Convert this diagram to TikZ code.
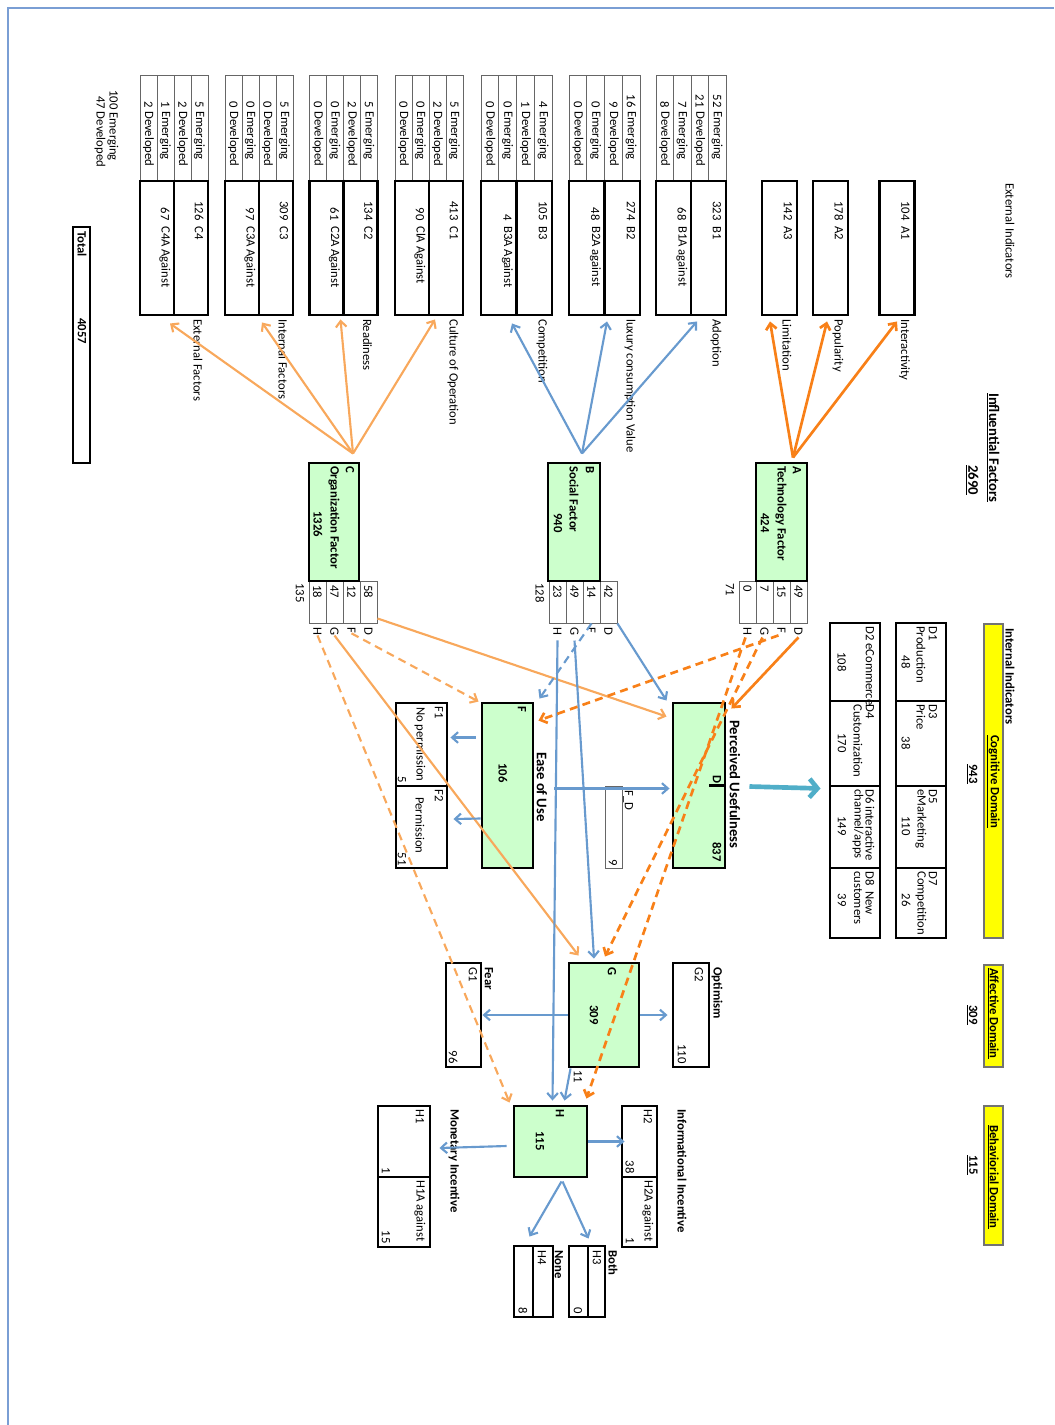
\documentclass[tikz,border=0pt]{standalone}
\usepackage{fontspec}
\setmainfont{Carlito}
\usetikzlibrary{arrows.meta, calc, positioning}

\definecolor{cellgreen}{RGB}{204,255,204}
\definecolor{domyellow}{RGB}{255,255,0}
\definecolor{lorange}{RGB}{248,168,92}
\definecolor{dorange}{RGB}{248,128,24}
\definecolor{lblue}{RGB}{104,154,206}
\definecolor{aqua}{RGB}{80,174,200}
\definecolor{pageblue}{RGB}{122,158,212}

\tikzset{
  wh/.style 2 args={minimum width=#1*0.75pt, minimum height=#2*0.75pt},
  box/.style={draw=black, line width=2.2pt, inner sep=0pt},
  gbox/.style={box, fill=cellgreen},
  ybox/.style={draw=black!55, line width=0.8pt, fill=domyellow, inner sep=0pt},
  tcell/.style={draw=black!60, line width=0.7pt, inner sep=0pt},
  txt/.style={rotate=-90, inner sep=0pt, font=\fontsize{9.5}{11}\selectfont},
  btxt/.style={txt, font=\fontsize{9.5}{11}\selectfont\bfseries},
  bigtxt/.style={txt, font=\fontsize{11}{13}\selectfont\bfseries},
  barb/.style={-{Straight Barb[length=4.5pt, width=8pt]}},
  carr/.style={barb, lorange, line width=1.6pt},
  barr/.style={barb, lblue, line width=1.6pt},
  aarr/.style={barb, dorange, line width=2pt},
  brk/.style={dash pattern=on 6pt off 4pt}
}

\begin{document}
\begin{tikzpicture}[x=0.75pt, y=-0.75pt]
  \useasboundingbox (0,0) rectangle (1054,1425);
  % page frame
  \draw[pageblue, line width=1pt] (8,1425) -- (8,8) -- (1054,8);

  % Titles
  \node[txt, anchor=west] (extind) at (1010,183) {External Indicators};
  \node[bigtxt, anchor=west] (inftitle) at (993,393) {\underline{Influential Factors}};
  \node[bigtxt, anchor=west] (infsum) at (972,465) {\underline{2690}};
  \node[txt, anchor=west] (emsum) at (113,90) {100 Emerging};
  \node[txt, anchor=west] (devsum) at (100,96) {47 Developed};

  % Total
  \node[box, wh={17}{236}] (total) at (81.5,345) {};
  \node[btxt, anchor=west] (total-t) at (82,231) {Total};
  \node[btxt, anchor=west] (total-n) at (82,318) {4057};

  % indicator boxes with counts on top
  \foreach \nm/\cx/\w/\na/\ta/\nb/\tb/\cnt/\lab in {
      c4/174/68/126/C4/67/C4A Against/{5,2,1,2}/External Factors,
      c3/259/68/309/C3/97/C3A Against/{5,0,0,0}/Internal Factors,
      c2/343.5/68/134/C2/61/C2A Against/{5,2,0,0}/Readiness,
      c1/429/68/413/C1/90/ClA Against/{5,2,0,0}/Culture of Operation,
      b3/516.5/71/105/B3/4/B3A Against/{4,1,0,0}/Competition,
      b2/604.5/71/274/B2/48/B2A against/{16,9,0,0}/luxury consumption Value,
      b1/691/70/323/B1/68/B1A against/{52,21,7,8}/Adoption} {
    \foreach \val [count=\ci] in \cnt {
      \node[tcell, wh={\w/4}{106}] (\nm c\ci) at ({\cx+\w/2-(\ci-0.5)*\w/4},128) {};
      \node[txt, anchor=east] (\nm v\ci) at ({\cx+\w/2-(\ci-0.5)*\w/4},108) {\val};
      \node[txt, anchor=west] (\nm w\ci) at ({\cx+\w/2-(\ci-0.5)*\w/4},111) {\ifodd\ci\relax Emerging\else Developed\fi};
    }
    \node[box, wh={\w}{134}] (\nm) at (\cx,248) {};
    \draw[line width=2.2pt] (\nm.north) -- (\nm.south);
    \node[txt, anchor=east] (\nm n1) at (\cx+\w/2-9,221) {\na};
    \node[txt, anchor=west] (\nm t1) at (\cx+\w/2-9,226) {\ta};
    \node[txt, anchor=east] (\nm n2) at (\cx-9,221) {\nb};
    \node[txt, anchor=west] (\nm t2) at (\cx-9,226) {\tb};
    \node[txt, anchor=west] (\nm l) at (\cx+\w/2-10,319) {\lab};
  }
  \foreach \nm/\cx/\na/\ta/\lab in {a3/779.5/142/A3/Limitation,
      a2/830.5/178/A2/Popularity, a1/897/104/A1/Interactivity} {
    \node[box, wh={35}{134}] (\nm) at (\cx,248) {};
    \node[txt, anchor=east] (\nm n1) at (\cx+8.5,221) {\na};
    \node[txt, anchor=west] (\nm t1) at (\cx+8.5,226) {\ta};
    \node[txt, anchor=west] (\nm l) at (\cx+7.5,319) {\lab};
  }

  % factor tables D F G H
  \foreach \fc/\xr/\vd/\vf/\vg/\vh/\tot in {c/377/58/12/47/18/135,
      b/617/42/14/49/23/128, a/807/49/15/7/0/71} {
    \foreach \cl/\val [count=\ci] in {D/\vd, F/\vf, G/\vg, H/\vh} {
      \node[tcell, wh={17}{42}] (\fc\cl) at ({\xr-(\ci-0.5)*17},602) {};
      \node[txt, anchor=west] (\fc\cl v) at ({\xr-(\ci-0.5)*17},585) {\val};
      \node[txt, anchor=west] (\fc\cl l) at ({\xr-(\ci-0.5)*17},627) {\cl};
    }
    \node[txt, anchor=west] (\fc-tot) at (\xr-77,583) {\tot};
  }

  % factors
  \node[gbox, wh={50}{118}] (c) at (334,522) {};
  \node[btxt, anchor=west] (c-id) at (350,466) {C};
  \node[btxt, anchor=west] (c-name) at (334,466) {Organization Factor};
  \node[btxt] (c-sum) at (318,524) {1326};
  \node[gbox, wh={52}{118}] (b) at (574,522) {};
  \node[btxt, anchor=west] (b-id) at (590,466) {B};
  \node[btxt, anchor=west] (b-name) at (574,466) {Social Factor};
  \node[btxt] (b-sum) at (558,523) {940};
  \node[gbox, wh={51}{118}] (a) at (781.5,522) {};
  \node[btxt, anchor=west] (a-id) at (797,466) {A};
  \node[btxt, anchor=west] (a-name) at (781,466) {Technology Factor};
  \node[btxt] (a-sum) at (765,523) {424};

  \coordinate (capex) at ($(c.north)+(19,-8)$);
  \coordinate (bapex) at ($(b.north)+(8,-8)$);
  \coordinate (aapex) at ($(a.north)+(11.5,-4)$);

  \draw[carr] (capex) -- ($(c4.south)+(-4,7)$);
  \draw[carr] (capex) -- ($(c3.south)+(3,6)$);
  \draw[carr] (capex) -- ($(c2.south)+(-3,3)$);
  \draw[carr] (capex) -- ($(c1.south)+(6,3)$);
  \draw[barr] (bapex) -- ($(b3.south)+(-4.5,7)$);
  \draw[barr] (bapex) -- ($(b2.south)+(2.5,5)$);
  \draw[barr] (bapex) -- ($(b1.south)+(6,5)$);
  \draw[aarr] (aapex) -- ($(a3.south)+(-9.5,5)$);
  \draw[aarr] (aapex) -- ($(a2.south)+(-3.5,5)$);
  \draw[aarr] (aapex) -- ($(a1.south)+(0,5)$);

  % internal indicators
  \node[ybox, wh={19}{314}] (cog) at (993.5,781) {};
  \node[btxt, anchor=west] (intind) at (1010,628) {Internal Indicators};
  \node[btxt, anchor=west] (cog-t) at (993,735) {\underline{Cognitive Domain}};
  \node[btxt, anchor=west] (cog-n) at (972,764) {\underline{943}};
  \node[ybox, wh={19}{102}] (aff) at (993.5,1016) {};
  \node[btxt, anchor=west] (aff-t) at (993,968) {\underline{Affective Domain}};
  \node[btxt, anchor=west] (aff-n) at (972,1005) {\underline{309}};
  \node[ybox, wh={19}{139}] (beh) at (993.5,1175.5) {};
  \node[btxt, anchor=west] (beh-t) at (993,1125) {\underline{Behaviorial Domain}};
  \node[btxt, anchor=west] (beh-n) at (972,1155) {\underline{115}};

  % D indicator cells
  \foreach \nm/\cy/\h/\ya/\yb/\la/\lb/\val in {
      d1/662/78/626/662/D1/Production/48, d3/743.5/85/704/743/D3/Price/38,
      d5/827/82/789/826/D5/eMarketing/110, d7/903/70/871/900/D7/Competition/26} {
    \node[box, wh={50}{\h}] (\nm) at (921,\cy) {};
    \node[txt, anchor=west] (\nm a) at (933,\ya) {\la};
    \node[txt, anchor=west] (\nm b) at (921,\ya) {\lb};
    \node[txt] (\nm n) at (906,\yb) {\val};
  }
  \foreach \nm/\cy/\h/\ya/\yb/\la/\lb/\val in {
      d2/662/78/626/662/D2 eCommerce//108, d4/743.5/85/704/743/D4/Customization/170,
      d6/827/82/789/826/D6 interactive/{channel/apps}/149} {
    \node[box, wh={50}{\h}] (\nm) at (855,\cy) {};
    \node[txt, anchor=west] (\nm a) at (870,\ya) {\la};
    \node[txt, anchor=west] (\nm b) at (858,\ya) {\lb};
    \node[txt] (\nm n) at (842,\yb) {\val};
  }
  \node[box, wh={50}{70}] (d8) at (855,903) {};
  \node[txt, anchor=west] (d8a) at (870,871) {D8\ \ New};
  \node[txt, anchor=west] (d8b) at (858,871) {customers};
  \node[txt] (d8n) at (842,900) {39};

  % perceived usefulness and ease of use
  \node[gbox, wh={52}{165}] (pu) at (699,785.5) {};
  \node[btxt, anchor=west] (pu-id) at (717,775) {D};
  \draw[line width=2pt] ($(pu.east)+(-17,0)$) -- (pu.east);
  \node[btxt, anchor=east] (pu-sum) at (717,862) {837};
  \node[bigtxt, anchor=west] (pu-name) at (735,720) {Perceived Usefulness};
  \node[gbox, wh={51}{165}] (eou) at (507.5,785.5) {};
  \node[btxt, anchor=west] (eou-id) at (522,706) {F};
  \node[btxt] (eou-sum) at (503,773) {106};
  \node[bigtxt, anchor=west] (eou-name) at (542,752) {Ease of Use};
  \node[box, wh={51}{83}] (f1) at (421.5,744.5) {};
  \node[txt, anchor=west] (f1-id) at (439,706) {F1};
  \node[txt, anchor=west] (f1-t) at (420,707) {No permission};
  \node[txt, anchor=east] (f1-n) at (402,783) {5};
  \node[box, wh={51}{82}] (f2) at (421.5,827) {};
  \node[txt, anchor=west] (f2-id) at (439,789) {F2};
  \node[txt, anchor=west] (f2-t) at (420,797) {Permission};
  \node[txt, anchor=east] (f2-n) at (402,866) {51};
  \node[tcell, wh={17}{82}] (fd) at (613.5,827) {};
  \node[txt, anchor=west] (fd-t) at (628,790) {F\_D};
  \node[txt, anchor=east] (fd-n) at (613,866) {9};

  % G
  \node[gbox, wh={70}{104}] (g) at (604,1015) {};
  \node[btxt, anchor=west] (g-id) at (612,967) {G};
  \node[btxt] (g-sum) at (594,1015) {309};
  \node[box, wh={35}{104}] (g1) at (463.5,1015) {};
  \node[txt, anchor=west] (g1-id) at (473,967) {G1};
  \node[txt, anchor=east] (g1-n) at (453,1064) {96};
  \node[btxt, anchor=west] (g1-t) at (489,967) {Fear};
  \node[box, wh={36}{104}] (g2) at (691,1015) {};
  \node[txt, anchor=west] (g2-id) at (699,967) {G2};
  \node[txt, anchor=east] (g2-n) at (682,1064) {110};
  \node[btxt, anchor=west] (g2-t) at (717,967) {Optimism};
  \node[txt, anchor=west] (gh-n) at (578,1070) {11};

  % H
  \node[gbox, wh={73}{71}] (h) at (550.5,1141.5) {};
  \node[btxt, anchor=west] (h-id) at (560,1109) {H};
  \node[btxt] (h-sum) at (540,1141) {115};
  \node[box, wh={52}{71}] (h1) at (404,1141.5) {};
  \node[txt, anchor=west] (h1-id) at (420,1109) {H1};
  \node[txt, anchor=east] (h1-n) at (386,1174) {1};
  \node[box, wh={52}{70}] (h1a) at (404,1212) {};
  \node[txt, anchor=west] (h1a-id) at (420,1180) {H1A against};
  \node[txt, anchor=east] (h1a-n) at (386,1244) {15};
  \node[btxt, anchor=west] (h1-t) at (454,1109) {Monetary Incentive};
  \node[box, wh={35}{71}] (h2) at (639.5,1141.5) {};
  \node[txt, anchor=west] (h2-id) at (648,1109) {H2};
  \node[txt, anchor=east] (h2-n) at (630,1174) {38};
  \node[box, wh={35}{70}] (h2a) at (639.5,1212) {};
  \node[txt, anchor=west] (h2a-id) at (648,1180) {H2A against};
  \node[txt, anchor=east] (h2a-n) at (630,1244) {1};
  \node[btxt, anchor=west] (h2-t) at (682,1109) {Informational Incentive};
  \node[box, wh={17}{71}] (h3) at (596.5,1281.5) {};
  \node[box, wh={19}{71}] (h3v) at (578.5,1281.5) {};
  \node[txt, anchor=west] (h3-id) at (597,1250) {H3};
  \node[txt, anchor=east] (h3-n) at (578,1314) {0};
  \node[btxt, anchor=west] (h3-t) at (613,1250) {Both};
  \node[box, wh={20}{71}] (h4) at (543,1281.5) {};
  \node[box, wh={19}{71}] (h4v) at (523.5,1281.5) {};
  \node[txt, anchor=west] (h4-id) at (542,1250) {H4};
  \node[txt, anchor=east] (h4-n) at (523,1314) {8};
  \node[btxt, anchor=west] (h4-t) at (559,1250) {None};

  % factor tables to D, F, G, H
  \draw[carr] ($(cD.south east)+(0,-5)$) -- ($(pu.west)+(-5,-69)$);
  \draw[carr, brk] (cFl.east) -- ($(eou.north west)+(-2,0)$);
  \draw[carr] (cGl.east) -- ($(g.north west)+(11,-6)$);
  \draw[carr, brk] (cHl.east) -- ($(h.north west)+(-3,-2)$);
  \draw[barr] (bD.south east) -- ($(pu.north west)+(-5,-1)$);
  \draw[barr, brk] (bF.south) -- ($(eou.north east)+(5,-3)$);
  \draw[barr] ($(bGl.east)+(0,5)$) -- ($(g.north)+(-10,-3)$);
  \draw[barr] ($(bHl.east)+(0,5)$) -- ($(h.north)+(2,-4)$);
  \draw[aarr] ($(aDl.east)+(0,2)$) -- ($(pu.north east)+(5,7)$);
  \draw[aarr, brk] ($(aFl.east)+(-3,2)$) -- ($(eou.north east)+(4,19)$);
  \draw[aarr, brk] ($(aGl.east)+(-2,2)$) -- ($(g.north)+(1,-5)$);
  \draw[aarr, brk] ($(aHl.east)+(-2,2)$) -- ($(h.north east)+(-2,-6)$);

  % F, G, H outflows
  \draw[barr] ($(eou.east)+(20,3)$) -- ($(pu.west)+(-2,3)$);
  \draw[barr] ($(eou.west)+(-5,-48)$) -- ($(f1.east)+(2,-7)$);
  \draw[barr] ($(eou.west)+(0,33)$) -- ($(f2.east)+(5,-8)$);
  \draw[barr] (g.west) -- (g1.east);
  \draw[barr] (g.east) -- ($(g2.west)+(-4,0)$);
  \draw[barr] ($(g.south west)+(3,0)$) -- ($(h.north)+(14,-4)$);
  \draw[barr] ($(h.west)+(-6,4.5)$) -- ($(h1.east)+(8,6.5)$);
  \draw[barr] (h.east) -- ($(h2.west)+(4,0)$);
  \draw[barr] ($(h.south)+(11,3)$) -- ($(h4v.north)+(6,-8)$);
  \draw[barr] ($(h.south)+(12,3)$) -- ($(h3.north)+(-8,-6)$);

  % D to internal indicators
  \draw[aqua, line width=3.5pt, -{Straight Barb[length=6pt, width=14pt]}]
    ($(pu.east)+(23,1)$) -- ($(d4.south west)+(-8,1)$);
\end{tikzpicture}
\end{document}
